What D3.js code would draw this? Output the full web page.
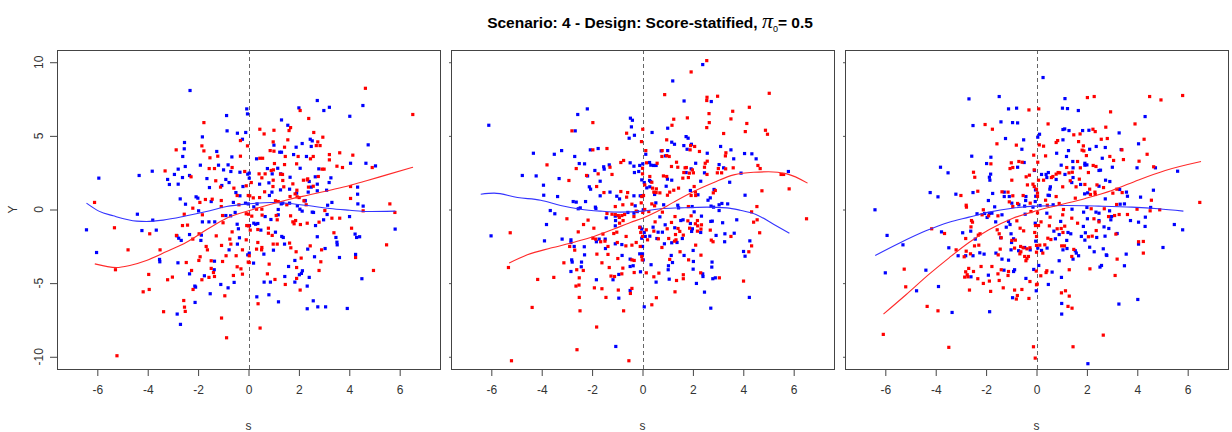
<!DOCTYPE html>
<html>
<head>
<meta charset="utf-8">
<script src="https://cdn.jsdelivr.net/npm/d3@7"></script>
<style>
  html, body { margin: 0; padding: 0; background: #fff; }
  svg { display: block; }
</style>
</head>
<body>
<svg id="chart" width="1232" height="432"></svg>
<script>
// Tick values shared by all three panels
const xTicks = [-6, -4, -2, 0, 2, 4, 6];
const yTicks = [-10, -5, 0, 5, 10];

// Panel 1: scatter (s, Y) per arm
const p1Blue = [[-2.32,8.08],[-0.07,6.83],[-0.04,6.49],[-0.87,6.38],[-0.85,5.34],[-0.44,5.18],[-0.11,5.23],[-0.24,4.77],[-2.54,4.55],[-1.83,4.93],[-2.55,4.12],[-1.26,3.94],[-2.61,3.60],[-0.66,3.57],[-1.91,3.01],[-1.19,3.01],[-0.81,3.03],[-2.79,2.74],[-2.51,2.92],[-0.99,2.69],[-0.70,2.58],[-0.34,2.53],[-0.03,2.40],[-3.82,2.60],[-4.34,2.31],[-5.94,2.13],[-2.94,2.38],[-2.62,2.17],[-2.34,2.31],[-3.21,2.04],[-1.65,2.10],[-0.90,2.04],[-0.77,1.83],[-3.14,1.70],[-2.79,1.72],[-1.55,1.49],[-1.06,1.63],[-0.22,1.56],[-2.71,0.72],[-2.08,0.86],[-2.01,0.77],[-1.48,0.54],[-0.50,1.15],[-0.34,0.93],[-2.50,0.36],[-0.60,0.48],[-0.12,0.43],[-4.41,-0.32],[-1.98,-0.09],[-0.90,-0.41],[-0.71,-0.43],[-0.53,-0.20],[-3.80,-0.72],[-1.83,-0.84],[-1.57,-0.84],[-1.34,-0.84],[-0.45,-1.00],[-4.23,-1.43],[-3.66,-1.40],[-2.84,-1.79],[-2.77,-1.95],[-2.67,-2.10],[-2.34,-1.70],[-1.87,-1.74],[-1.89,-2.10],[-0.40,-1.31],[-6.43,-1.38],[-0.44,-2.35],[-0.36,-1.92],[-6.03,-2.92],[-0.77,-2.74],[-0.03,-3.08],[-3.53,-3.39],[-3.52,-3.55],[-2.80,-3.62],[-1.35,-3.51],[-1.36,-4.09],[-2.34,-4.37],[-1.75,-4.50],[-0.57,-4.95],[-2.13,-5.20],[-2.10,-5.27],[-1.10,-5.09],[-0.81,-5.32],[-1.52,-5.72],[-2.12,-6.31],[-2.83,-7.10],[-2.70,-7.80],
[4.54,7.06],[2.73,7.40],[2.00,6.90],[2.99,6.72],[3.21,6.94],[4.02,6.33],[1.31,6.08],[1.56,5.72],[2.45,4.77],[2.53,4.66],[1.01,4.37],[2.13,4.48],[2.49,4.28],[4.75,4.39],[1.24,3.89],[1.31,3.89],[1.89,4.23],[1.79,3.73],[2.30,3.60],[0.32,3.44],[4.05,3.14],[4.66,3.14],[5.04,2.96],[2.79,2.76],[2.05,2.80],[1.16,2.80],[0.75,2.78],[0.03,2.47],[0.94,2.42],[1.28,2.42],[1.65,2.19],[2.41,1.90],[2.65,2.22],[2.73,1.72],[3.27,2.15],[3.20,1.83],[0.03,2.13],[0.44,1.72],[0.81,1.81],[1.27,1.33],[1.63,1.38],[2.49,1.52],[2.73,1.27],[3.10,1.31],[4.33,1.52],[4.33,1.04],[0.83,0.95],[0.93,1.18],[1.91,1.11],[2.24,0.61],[2.37,1.18],[1.63,0.43],[-0.01,0.38],[0.34,0.38],[1.30,0.38],[1.36,0.43],[1.94,0.25],[2.04,0.02],[2.25,0.59],[3.31,0.48],[3.14,0.29],[4.34,0.38],[4.55,0.23],[0.21,0.18],[1.18,0],[1.18,-0.36],[2.13,-0.11],[2.53,-0.18],[2.58,-0.20],[3.12,-0.34],[4.01,-0.48],[0.66,-0.48],[0.89,-0.68],[0.21,-0.93],[0.28,-1.00],[0.37,-0.95],[2.66,-1.09],[2.98,-0.70],[0.04,-1.09],[0.49,-1.40],[1.07,-1.54],[1.32,-1.83],[1.38,-1.90],[1.43,-2.35],[2.73,-1.85],[3.47,-1.90],[3.51,-2.22],[3.52,-2.40],[4.23,-1.67],[4.29,-1.90],[4.41,-1.85],[5.82,-1.33],[0.61,-3.03],[0.03,-2.96],[0.99,-2.76],[2.35,-2.69],[2.62,-3.21],[3.04,-2.65],[3.61,-3.26],[4.25,-3.05],[0.20,-3.64],[1.59,-3.87],[1.84,-3.46],[2.14,-4.16],[2.10,-4.34],[2.02,-4.43],[4.50,-4.70],[2.41,-4.61],[0.62,-4.93],[0.87,-4.93],[1.44,-4.55],[1.84,-4.93],[2.33,-5.20],[0.81,-5.79],[0.33,-5.93],[1.19,-6.27],[2.57,-6.20],[2.75,-6.61],[3.06,-6.61],[3.92,-6.72],[2.33,-6.74]];
const p1Red = [[-1.77,5.90],[-0.32,4.68],[-0.04,4.32],[-1.85,4.32],[-2.87,4.05],[-1.77,3.98],[-1.22,3.62],[-1.53,3.51],[-0.32,3.62],[-3.31,2.62],[-1.56,2.78],[-1.35,2.78],[-0.65,2.85],[-0.15,2.58],[-2.28,2.22],[-1.30,1.95],[-1.11,1.52],[-0.09,1.61],[-0.58,1.45],[-1.71,0.68],[-1.44,0.70],[-0.45,0.95],[-1.08,0.61],[-0.01,0.95],[-6.11,0.48],[-1.93,0.48],[-2.21,0.09],[-1.08,0.20],[-0.38,0.32],[-2.55,-0.32],[-1.83,-0.36],[-1.03,-0.41],[-0.09,-0.29],[-2.62,-1.09],[-2.42,-1.06],[-1.01,-0.90],[-0.07,-1.09],[-5.32,-1.24],[-3.92,-1.65],[-2.86,-1.76],[-2.21,-2.01],[-1.96,-1.65],[-0.65,-1.52],[-1.28,-1.79],[-1.07,-2.44],[-0.70,-2.35],[-0.09,-2.06],[-0.74,-2.01],[-4.78,-2.74],[-3.51,-2.74],[-1.68,-2.51],[-1.63,-2.74],[-0.24,-2.74],[-2.47,-3.60],[-1.92,-3.21],[-1.97,-3.46],[-1.48,-3.48],[-1.03,-3.53],[-0.89,-3.14],[-0.49,-3.14],[-0.01,-3.57],[-5.28,-4.09],[-2.26,-4.14],[-1.48,-4.00],[-1.39,-4.28],[-0.45,-3.89],[-0.30,-4.03],[-3.96,-4.41],[-1.57,-4.61],[-1.35,-4.55],[-0.60,-4.48],[-0.24,-4.39],[-3.21,-4.77],[-3.02,-4.59],[-1.85,-4.77],[-2.20,-5.43],[-4.18,-5.59],[-3.94,-5.43],[-0.94,-5.86],[-2.57,-6.18],[-2.54,-6.63],[-2.51,-6.92],[-3.37,-6.94],[-1.07,-7.37],[-0.87,-8.71],[-5.22,-9.93],
[4.64,8.23],[2.05,6.72],[6.52,6.45],[2.39,6.18],[0.45,5.45],[1.01,5.38],[1.61,5.36],[1.67,5.56],[0.62,5.13],[2.59,5.23],[2.95,4.91],[2.75,4.59],[1.56,4.73],[0.98,4.59],[2.69,4.34],[2.84,4.34],[1.43,4.23],[0.86,4.00],[1.01,3.96],[1.46,3.60],[1.97,3.60],[2.46,3.44],[2.57,3.60],[3.21,3.73],[3.62,3.85],[4.14,3.69],[0.45,3.48],[0.56,3.48],[3.21,3.37],[4.91,2.85],[3.51,2.94],[3.73,2.85],[2.92,2.74],[3.00,2.74],[1.91,3.10],[1.43,3.05],[0.99,2.69],[1.03,3.12],[0.42,2.42],[0.66,2.42],[0.90,2.65],[1.27,2.40],[1.35,2.38],[2.35,2.08],[2.33,2.01],[2.77,2.24],[0.11,1.83],[0.53,2.15],[0.98,1.99],[1.36,1.97],[1.40,1.54],[0.97,1.56],[1.76,1.74],[1.92,1.31],[2.18,1.99],[2.38,1.52],[2.57,1.58],[4.05,1.56],[0.05,0.93],[0.19,0.79],[0.44,0.81],[0.64,1.20],[1.07,0.59],[1.18,0.54],[1.65,0.88],[1.85,1.06],[1.93,0.86],[2.01,0.81],[2.20,0.59],[1.52,0.32],[2.29,0.32],[4.05,0.75],[5.61,0.38],[4.55,-0.09],[0.32,0.02],[0.53,0.02],[1.10,-0.41],[1.67,-0.43],[3.03,-0.07],[3.31,-0.59],[3.62,-0.59],[5.81,-0.20],[0,-0.32],[0.13,-0.45],[0.54,-0.38],[1.14,-0.70],[1.87,-0.75],[1.76,-0.84],[1.81,-0.97],[2.06,-1.02],[2.33,-0.93],[2.80,-0.86],[0,-1.11],[0.07,-1.40],[0.37,-1.36],[0.79,-1.27],[0.79,-1.61],[0.94,-1.76],[0.98,-2.35],[1.14,-2.35],[1.63,-2.28],[1.68,-2.60],[3.39,-1.58],[4.09,-1.27],[5.48,-2.40],[0.37,-2.24],[0.53,-2.58],[0.32,-2.69],[0.52,-2.74],[0.03,-3.14],[1.89,-2.87],[2.09,-3.30],[2.45,-2.47],[2.90,-2.74],[2.87,-3.55],[4.25,-3.26],[0.82,-3.71],[0.03,-3.60],[1.91,-3.94],[2.80,-4.14],[4.96,-4.14],[0.75,-4.37],[1.05,-4.75],[1.91,-4.68],[1.46,-5.09],[2.05,-5.47],[0.38,-6.40],[0.46,-8.05]];

// Panel 2
const p2Blue = [[-2.19,6.83],[-2.57,6.45],[-6.10,5.72],[-0.48,6.20],[-0.40,6.06],[-0.44,5.61],[-2.67,5.34],[-0.32,5.04],[-0.53,4.84],[-4.33,3.82],[-3.50,3.75],[-3.21,4.00],[-2.07,4.05],[-1.76,4.14],[-2.69,3.60],[-2.51,3.12],[-2.30,3.10],[-1.89,2.65],[-1.54,2.90],[-1.52,2.74],[-1.32,3.03],[-0.49,3.17],[-0.34,2.94],[-0.11,2.99],[0.01,3.10],[-4.77,2.31],[-4.22,2.28],[-3.31,2.10],[-2.18,2.28],[-0.32,2.51],[-0.15,2.58],[-1.68,1.92],[-0.03,2.01],[-3.93,1.65],[-2.11,1.54],[-2.06,1.38],[-1.29,1.18],[-1.68,0.93],[-0.34,0.93],[-1.02,0.90],[-0.91,0.72],[-0.09,0.93],[-3.92,0.97],[-3.37,0.88],[-2.75,0.54],[-2.63,0.50],[-2.26,0.54],[-1.87,0.16],[-1.85,0.07],[-2.55,0.05],[-2.47,0.11],[-0.29,0.25],[-3.66,-0.07],[-3.48,-0.29],[-1.44,-0.57],[-1.08,-0.45],[-0.58,-0.20],[-0.34,-0.25],[-0.21,-0.14],[-1.07,-0.75],[-3.81,-1.02],[-1.08,-1.11],[-0.09,-1.20],[-0.03,-1.33],[-6.01,-1.79],[-0.03,-1.95],[0,-2.51],[-3.89,-2.13],[-3.19,-2.01],[-2.84,-2.06],[-2.84,-2.24],[-2.71,-2.51],[-1.72,-2.01],[-1.83,-2.19],[-1.48,-2.01],[-1.08,-2.33],[-0.82,-2.38],[-2.31,-2.53],[-1.47,-2.65],[-2.30,-3.08],[-0.81,-3.12],[-0.11,-3.01],[-0.49,-3.37],[-2.81,-3.42],[-2.79,-3.57],[-2.42,-3.57],[-2.43,-3.89],[-2.84,-4.21],[-0.49,-3.87],[-0.37,-3.82],[-0.08,-4.23],[-1.83,-4.77],[-1.17,-4.77],[-0.94,-4.41],[-0.49,-5.50],[-0.94,-6.02],[-1.06,-9.30],
[2.39,9.84],[1.20,8.73],[1.65,7.37],[2.73,7.33],[1.00,5.52],[0.38,5.23],[1.16,4.57],[1.27,4.43],[1.73,4.95],[1.81,4.84],[1.64,4.34],[1.94,4.43],[1.77,4.09],[3.10,4.28],[3.51,4.05],[2.57,3.82],[3.62,3.44],[4.05,3.80],[4.34,3.78],[4.51,3.44],[0.13,3.75],[0.74,3.98],[1.00,4.00],[0.91,3.64],[0.28,3.19],[0.33,3.01],[0.44,2.99],[0.54,2.99],[1.93,2.76],[2.11,3.14],[3.04,3.05],[3.22,2.83],[1.73,2.51],[2.46,2.49],[3.91,2.47],[5.79,2.58],[0.99,2.06],[1.16,1.99],[0.28,1.97],[0.07,1.83],[0.29,1.54],[0.32,1.90],[0.17,1.47],[0.94,1.58],[1.90,1.29],[2.20,1.00],[2.31,1.92],[2.84,1.36],[3.46,1.85],[4.07,0.97],[2.69,0.79],[2.60,0.63],[0.48,1.02],[0.53,0.45],[0.84,0.32],[0,0.93],[1.40,0.29],[1.43,0.11],[2.72,0.23],[2.82,0.16],[3.04,0.32],[3.15,0.41],[3.38,0.38],[0.03,-0.02],[1.97,0.20],[2.05,-0.16],[3.04,-0.07],[2.34,-0.45],[0.69,-0.50],[1.52,-0.75],[1.61,-0.70],[1.90,-0.95],[2.71,-0.81],[2.77,-0.79],[3.18,-0.90],[3.74,-0.70],[0.90,-1.04],[0.42,-1.20],[1.28,-1.24],[0.79,-1.54],[0.62,-1.54],[0.07,-1.56],[0.11,-1.83],[0.29,-1.81],[1.58,-1.97],[1.95,-1.49],[1.98,-1.31],[2.31,-1.56],[2.92,-1.76],[3.27,-1.65],[3.64,-1.61],[0.57,-1.97],[0.87,-2.33],[1.16,-2.26],[1.37,-2.24],[1.65,-3.12],[2.01,-2.78],[3.26,-2.19],[4.26,-2.13],[4.01,-2.85],[4.07,-3.17],[0,-3.01],[0.03,-3.42],[1.14,-3.12],[1.19,-3.60],[1.03,-3.82],[1.02,-4.09],[2.02,-3.53],[2.01,-4.05],[2.76,-3.57],[2.75,-3.91],[0.34,-3.75],[2.39,-4.37],[2.40,-4.55],[2.79,-4.70],[2.89,-4.64],[1.06,-4.73],[0.54,-4.93],[2.14,-5.02],[2.46,-5.61],[4.24,-5.97],[0.07,-6.61],[2.71,-6.70]];
const p2Red = [[-1.97,5.90],[0.01,5.45],[-2.80,5.34],[-0.63,5.18],[-0.04,4.61],[-1.97,4.05],[-1.41,4.14],[-3.79,3.03],[-2.63,2.78],[-1.29,2.87],[-0.86,3.19],[-0.75,3.33],[-2.92,1.97],[-2.22,2.31],[-1.76,2.42],[-1.21,2.38],[-1.82,1.56],[-1.53,1.15],[-0.86,1.22],[-0.59,1.15],[-0.63,0.84],[-0.03,0.88],[-0.05,0.45],[-0.42,0.36],[-0.78,0.32],[-1.08,0.20],[-0.25,-0.11],[-3.00,-0.63],[-2.16,-0.72],[-1.41,-0.27],[-1.21,-0.32],[-1.08,-0.34],[-0.96,-0.41],[-0.92,-0.54],[-0.82,-0.41],[-0.71,-0.34],[0.01,-0.20],[-0.34,-0.48],[-0.77,-0.75],[-2.34,-1.02],[-0.91,-0.93],[-0.11,-1.22],[-1.93,-1.27],[-2.55,-1.52],[-5.25,-1.58],[-1.57,-1.67],[-1.14,-1.63],[-1.02,-1.54],[-0.07,-1.56],[-0.65,-1.83],[-2.89,-2.51],[-1.97,-1.95],[-1.86,-2.01],[-1.66,-2.19],[-1.49,-2.15],[-1.37,-2.51],[-1.00,-2.24],[-0.66,-2.47],[-0.42,-2.42],[-0.25,-2.24],[-2.69,-2.76],[-0.09,-2.51],[-1.81,-3.03],[-1.37,-3.05],[-0.03,-3.19],[-0.01,-3.42],[-0.98,-3.33],[-0.42,-3.42],[-0.33,-3.46],[-3.12,-3.62],[-1.61,-3.62],[-5.32,-3.94],[-2.61,-4.09],[-2.35,-4.14],[-1.32,-3.94],[-0.78,-3.98],[-0.33,-4.28],[-4.16,-4.75],[-3.52,-4.61],[-2.51,-4.64],[-1.25,-4.52],[-1.11,-4.55],[-0.82,-4.37],[-2.64,-5.20],[-2.52,-5.13],[-1.91,-5.32],[-1.61,-5.38],[-0.96,-5.47],[-0.42,-5.36],[-0.48,-5.70],[-2.51,-5.97],[-1.45,-5.97],[-4.38,-6.65],[-2.48,-6.88],[-0.75,-6.88],[-1.82,-7.98],[-2.60,-9.52],[-5.20,-10.27],[-0.54,-10.27],
[2.55,10.11],[1.93,9.34],[0.88,7.80],[5.03,7.89],[2.56,7.62],[2.55,7.40],[2.98,7.69],[4.24,6.94],[3.58,6.67],[2.64,6.51],[3.51,6.15],[1.78,6.22],[1.24,6.13],[1.17,5.72],[2.65,5.90],[2.55,5.56],[4.14,5.84],[4.88,5.38],[4.96,5.11],[4.08,5.29],[3.22,5.16],[0.96,4.73],[1.91,4.34],[2.07,4.28],[1.89,4.05],[2.26,3.94],[3.31,3.85],[3.29,3.64],[0.13,4.00],[0.78,4.00],[0.96,3.66],[0.77,3.60],[1.06,3.60],[0.16,3.17],[0.58,3.14],[1.35,3.21],[1.40,2.87],[1.15,2.92],[1.74,2.85],[1.69,2.83],[1.98,2.69],[2.49,3.14],[2.46,2.87],[2.57,3.28],[3.30,2.76],[3.01,2.78],[3.60,2.83],[4.58,2.99],[4.67,2.78],[0,2.80],[0,2.42],[1.64,2.51],[1.86,2.47],[2.02,2.49],[2.56,2.38],[2.97,2.49],[3.14,2.49],[5.50,2.38],[5.60,2.38],[0.83,2.28],[0.96,2.24],[1.82,2.17],[1.60,2.13],[0.29,2.24],[0.09,1.67],[0.37,1.85],[0.40,1.45],[0.55,1.40],[1.43,1.45],[1.24,1.31],[1.08,1.18],[2.05,1.56],[2.10,1.18],[2.11,0.95],[1.93,0.95],[2.89,1.29],[5.82,1.40],[4.74,1.27],[2.81,1.13],[0.69,1.13],[0.45,1.18],[0.54,1.15],[0.99,0.97],[0.48,0.25],[0.37,0.38],[0.04,0.95],[1.82,0.20],[4.54,0.20],[0.25,-0.14],[0.09,0],[0.79,-0.18],[4.33,-0.16],[1.93,-0.43],[1.29,-0.48],[1.80,-0.77],[2.10,-0.97],[2.18,-0.75],[2.34,-1.04],[2.19,-1.11],[1.87,-1.27],[4.41,-0.86],[4.55,-0.70],[6.51,-0.63],[1.15,-0.88],[0.50,-0.84],[0.98,-1.31],[1.41,-1.29],[1.48,-1.49],[1.31,-1.70],[0.45,-1.47],[0.15,-1.38],[1.62,-1.74],[2.18,-1.47],[2.32,-1.33],[2.69,-1.40],[4.65,-1.58],[3.51,-1.83],[0,-1.83],[0.20,-2.06],[0.63,-1.99],[1.04,-1.97],[1.27,-2.15],[1.33,-2.06],[0.77,-2.58],[1.49,-2.87],[1.83,-3.42],[2.11,-2.42],[2.32,-3.10],[2.73,-2.08],[2.80,-2.19],[4.33,-2.47],[4.22,-2.87],[1.08,-3.39],[0.15,-4.30],[1.62,-4.43],[1.62,-4.70],[2.31,-4.30],[3.05,-4.64],[1.35,-4.82],[0.45,-4.57],[0.65,-4.32],[4.01,-4.86],[1.29,-5.59],[0.55,-5.99],[0.37,-6.47]];

// Panel 3
const p3Blue = [[-1.48,7.67],[-2.68,7.51],[-1.11,6.83],[-0.79,6.88],[-1.41,5.95],[-0.95,5.90],[-0.75,5.88],[-2.52,5.70],[-1.23,4.82],[-0.51,4.73],[-0.58,4.09],[-2.57,3.62],[-1.81,3.55],[-0.49,3.19],[-1.98,3.12],[-0.75,2.87],[-3.81,2.87],[-3.51,2.49],[-1.87,2.19],[-1.82,2.40],[-1.85,1.99],[-0.08,2.65],[-4.22,1.15],[-3.91,0.86],[-3.20,1.04],[-2.52,1.15],[-1.74,1.09],[-1.28,1.18],[-1.08,0.88],[-1.28,0.88],[-0.42,0.88],[-0.04,1.33],[-0.03,0.90],[-0.98,0.43],[-0.70,0.32],[-0.47,0.23],[-0.43,0.61],[-0.14,0.16],[-0.45,-0.32],[-0.05,0.54],[-1.91,0.61],[-1.66,0.18],[-6.41,-0.02],[-2.36,-0.29],[-2.06,-0.27],[-1.96,-0.54],[-1.87,-0.27],[-1.77,-0.25],[-1.37,-0.36],[-1.62,-0.84],[-1.11,-0.81],[-1.05,-1.02],[-0.05,-0.93],[-0.03,-2.15],[-3.77,-1.52],[-2.93,-1.58],[-2.61,-1.47],[-1.20,-1.20],[-1.42,-1.92],[-1.01,-1.65],[-0.99,-2.24],[-0.91,-1.99],[-0.47,-2.58],[-0.25,-2.74],[-5.93,-1.76],[-5.30,-2.40],[-2.43,-2.01],[-3.48,-2.60],[-3.11,-3.14],[-2.81,-3.14],[-2.52,-3.14],[-2.25,-2.94],[-2.08,-3.03],[-1.61,-2.96],[-1.37,-3.37],[-1.11,-3.44],[-1.01,-2.74],[-0.71,-2.80],[-4.39,-4.12],[-6.00,-4.30],[-2.60,-4.57],[-1.29,-4.12],[-0.91,-4.21],[-0.87,-4.09],[-1.91,-4.46],[-0.42,-4.68],[-0.11,-4.07],[-4.76,-5.52],[-3.89,-5.23],[-0.01,-5.52],[-0.95,-5.99],[-3.35,-6.99],[-1.86,-6.94],
[0.26,8.96],[1.13,7.53],[1.03,6.88],[1.23,6.85],[1.66,6.72],[4.31,6.31],[1.05,5.43],[1.12,5.47],[1.29,5.36],[1.83,5.36],[2.08,5.38],[3.28,5.20],[0.12,5.11],[0.05,4.91],[1.05,4.73],[4.05,4.46],[2.37,4.28],[2.73,4.21],[2.11,4.09],[3.36,4.07],[1.27,4.00],[0.80,3.82],[1.19,3.60],[2.61,3.48],[1.92,3.14],[1.92,3.01],[2.00,3.03],[1.44,3.26],[0.98,3.01],[1.45,2.83],[2.48,2.65],[2.54,2.67],[3.01,2.87],[3.99,2.83],[4.72,2.83],[5.60,2.60],[0.20,2.38],[0.38,2.38],[0.47,2.51],[0.41,2.17],[0.78,2.04],[1.13,2.38],[1.40,1.83],[1.45,2.17],[2.74,1.99],[2.91,1.90],[2.48,1.58],[0.55,1.54],[0.53,1.38],[1.75,1.70],[3.30,1.36],[3.57,1.18],[4.64,1.31],[0.46,0.97],[0.51,0.95],[1.91,1.06],[2.03,1.13],[3.61,0.90],[4.13,0.84],[2.73,0.72],[0.14,0.27],[0.66,0.32],[1.41,0.02],[2.00,0.14],[2.36,-0.18],[2.48,-0.25],[2.90,-0.09],[3.49,0.38],[3.32,0.36],[4.53,0.14],[0.41,-0.25],[1.87,-0.18],[2.02,-0.63],[2.48,-0.75],[2.98,-0.48],[2.95,-0.70],[3.73,-0.75],[4.05,-0.86],[4.32,-0.52],[4.31,-1.15],[5.47,-1.02],[5.80,-1.38],[0.96,-0.81],[0.69,-1.47],[0.90,-1.70],[1.25,-1.56],[1.36,-1.65],[1.86,-1.15],[1.94,-1.58],[2.68,-1.18],[2.87,-1.29],[3.20,-1.63],[2.72,-1.81],[2.39,-1.90],[0.75,-1.99],[1.20,-2.10],[1.78,-1.83],[1.92,-2.08],[0.05,-2.62],[0.20,-2.78],[0.42,-2.62],[1.05,-2.74],[1.21,-2.65],[1.54,-2.80],[1.58,-2.96],[1.45,-3.37],[1.67,-3.14],[2.11,-2.56],[2.29,-2.87],[2.65,-2.67],[2.77,-3.08],[2.79,-3.12],[5.02,-2.58],[3.56,-3.03],[4.05,-2.35],[0.90,-3.48],[0.62,-4.25],[2.52,-3.91],[2.58,-3.80],[3.49,-3.82],[0.09,-3.80],[0.99,-4.61],[0.47,-5.09],[1.00,-6.38],[3.27,-6.42],[4.02,-6.11],[1.00,-7.10],[2.04,-10.47]];
const p3Red = [[-0.30,6.76],[-2.04,5.77],[-1.75,5.45],[-1.57,4.46],[-0.80,4.37],[-0.11,3.69],[-0.70,3.26],[-0.57,3.21],[-1.00,3.17],[-1.81,3.10],[-1.05,2.78],[-0.94,2.85],[-0.09,2.69],[-2.50,2.53],[-2.45,2.19],[-0.98,1.99],[-0.41,2.22],[-0.28,2.33],[-3.00,0.95],[-2.33,1.24],[-1.37,1.20],[-1.13,1.18],[-0.94,0.93],[-0.53,0.95],[-0.36,1.67],[-0.14,1.72],[-0.09,1.56],[-1.08,0.52],[-0.94,0.20],[-0.25,0.43],[-0.22,-0.14],[-0.75,0.41],[-2.79,0.29],[-2.78,0.16],[-2.16,-0.36],[-1.53,-0.43],[-2.11,-0.02],[-1.90,-0.43],[-2.58,-0.75],[-2.54,-0.86],[-0.78,-0.77],[-0.65,-1.27],[-0.51,-1.45],[-0.04,-1.09],[-0.07,-1.56],[0,-1.83],[-4.16,-1.31],[-3.65,-1.63],[-2.60,-1.18],[-2.24,-1.65],[-2.31,-1.74],[-1.56,-1.38],[-1.48,-1.65],[-1.40,-1.92],[-0.98,-2.10],[-0.84,-2.08],[-0.63,-2.51],[-0.53,-2.60],[-0.38,-2.67],[-0.26,-2.60],[0,-2.90],[-2.81,-1.97],[-2.29,-2.42],[-2.46,-2.47],[-3.19,-2.74],[-2.87,-3.21],[-2.79,-2.83],[-2.62,-3.01],[-1.44,-2.69],[-1.52,-3.08],[-0.87,-2.62],[-0.66,-3.01],[-0.47,-3.19],[-0.38,-3.33],[-0.42,-3.48],[-0.62,-2.87],[-0.32,-3.19],[-5.25,-4.05],[-2.20,-3.87],[-1.77,-3.87],[-2.69,-4.00],[-2.81,-4.23],[-2.75,-4.43],[-2.72,-4.57],[-2.85,-4.59],[-2.50,-4.21],[-1.53,-4.37],[-1.40,-4.09],[-1.13,-4.48],[-1.11,-4.21],[-2.33,-4.70],[-2.11,-5.02],[-1.87,-4.86],[-1.48,-4.82],[-0.26,-4.89],[-0.01,-4.18],[-5.19,-5.25],[-2.66,-5.47],[-1.82,-5.56],[-1.32,-5.32],[-0.87,-5.47],[-0.58,-5.43],[0,-5.11],[-0.80,-6.08],[-0.76,-5.84],[-0.30,-6.04],[-4.34,-6.58],[-3.91,-6.88],[-6.08,-8.48],[-3.48,-9.36],[-0.12,-9.32],[-0.05,-10.09],
[2.02,7.60],[2.29,7.67],[4.49,7.67],[5.80,7.74],[4.94,7.44],[0.09,6.83],[2.94,6.63],[0.46,5.81],[3.91,5.81],[2.75,5.59],[2.24,5.45],[2.33,5.29],[1.48,5.07],[1.73,5.13],[0.84,4.68],[0.78,4.55],[1.67,4.61],[2.57,4.77],[2.81,4.82],[4.27,4.77],[0.11,4.39],[0.28,4.30],[1.86,4.32],[1.81,4.03],[1.88,3.98],[3.39,4.05],[4.39,3.75],[1.98,3.66],[2.91,3.60],[3.06,3.33],[3.45,3.39],[0.36,3.64],[0.05,3.21],[1.63,3.26],[1.20,2.85],[1.74,2.83],[2.25,2.99],[2.36,2.92],[4.07,3.28],[4.65,2.90],[0.86,2.51],[0.92,2.49],[0.78,2.40],[0.59,2.17],[0.65,2.24],[0.28,1.99],[0.08,1.99],[1.29,2.49],[1.42,2.53],[1.34,1.95],[1.70,2.06],[2.06,2.51],[1.92,1.70],[2.40,1.67],[2.11,1.38],[2.66,1.49],[1.04,1.54],[1.57,1.54],[3.19,1.38],[3.03,1.11],[3.40,1.15],[0,1.38],[0.04,1.11],[0.04,0.88],[0.78,0.88],[0.36,0.63],[1.54,0.77],[2.14,1.02],[2.32,1.18],[2.33,1.02],[4.56,0.63],[0.43,0.29],[0.90,0.41],[1.07,0],[2.17,0.05],[2.69,0.05],[3.18,0.34],[4.51,-0.09],[3.99,0.02],[4.89,-0.02],[6.48,0.48],[0.04,-0.23],[0.54,-0.52],[1.04,-0.36],[1.40,-0.59],[2.28,-0.63],[2.48,-0.84],[2.86,-0.48],[3.10,-0.41],[3.28,-0.34],[3.61,-0.34],[0.18,-0.84],[0.08,-1.09],[0.51,-1.11],[0.98,-1.29],[1.12,-1.13],[0.82,-1.31],[1.05,-1.56],[1.63,-0.93],[2.37,-1.43],[3.15,-1.67],[2.06,-1.85],[2.21,-1.81],[0.45,-1.95],[0.57,-2.04],[0,-2.44],[0.13,-2.42],[0.33,-2.40],[0.25,-2.96],[1.00,-2.47],[1.11,-2.47],[1.48,-2.71],[1.40,-3.19],[4.05,-2.19],[4.24,-2.17],[3.20,-3.37],[4.24,-2.96],[0.41,-4.16],[0.38,-4.28],[1.30,-4.09],[2.12,-4.03],[0.17,-4.50],[3.12,-4.48],[0.03,-5.07],[0.99,-5.66],[1.15,-5.52],[1.30,-5.88],[1.25,-6.58],[1.41,-6.70],[2.65,-8.53],[1.45,-9.32]];

// Lowess fits per arm (s, fitted Y)
const p1BlueFit = [[-6.43,0.43],[-5.94,-0.11],[-5.37,-0.43],[-4.44,-0.79],[-4.05,-0.81],[-3.39,-0.72],[-2.46,-0.43],[-1.67,-0.14],[-0.87,0.20],[0,0.38],[0.91,0.48],[1.64,0.41],[2.43,0.25],[3.23,0.07],[4.02,-0.05],[4.68,-0.14],[5.83,-0.11]];
const p1RedFit = [[-6.10,-3.69],[-5.24,-3.94],[-4.71,-3.80],[-4.05,-3.46],[-3.25,-2.85],[-2.46,-2.22],[-1.67,-1.38],[-0.87,-0.59],[0,-0.09],[0.85,0.34],[1.64,0.70],[2.43,1.00],[3.23,1.31],[4.02,1.63],[4.68,1.95],[5.48,2.35],[6.53,2.87]];
const p2BlueFit = [[-6.42,1.04],[-5.89,1.11],[-4.96,0.81],[-4.04,0.63],[-3.25,0.27],[-2.46,0.02],[-1.66,-0.11],[-0.87,-0.18],[0,-0.11],[0.71,0.05],[1.50,0.11],[2.56,0.16],[3.35,0.11],[3.88,-0.05],[4.48,-0.32],[5.20,-1.00],[5.83,-1.61]];
const p2RedFit = [[-5.29,-3.64],[-4.57,-3.08],[-3.64,-2.62],[-2.72,-2.22],[-1.93,-1.83],[-1.14,-1.33],[-0.48,-0.88],[0,-0.59],[0.58,-0.14],[1.24,0.50],[2.03,1.22],[2.83,1.83],[3.62,2.35],[4.41,2.53],[5.00,2.56],[5.73,2.42],[6.55,1.79]];
const p3BlueFit = [[-6.40,-3.12],[-5.45,-2.29],[-4.39,-1.45],[-3.47,-0.86],[-2.68,-0.52],[-1.89,-0.18],[-0.96,0.09],[0,0.23],[1.15,0.27],[2.47,0.23],[3.79,0.16],[4.84,0.05],[5.83,-0.11]];
const p3RedFit = [[-6.07,-7.10],[-5.18,-5.79],[-4.26,-4.39],[-3.47,-3.28],[-2.68,-2.24],[-1.89,-1.38],[-0.96,-0.61],[0,-0.09],[0.88,0.29],[1.94,0.75],[2.99,1.29],[4.05,2.01],[5.11,2.65],[6.53,3.26]];

const panels = [
  { blue: p1Blue, red: p1Red, blueFit: p1BlueFit, redFit: p1RedFit, yLabels: true },
  { blue: p2Blue, red: p2Red, blueFit: p2BlueFit, redFit: p2RedFit, yLabels: false },
  { blue: p3Blue, red: p3Red, blueFit: p3BlueFit, redFit: p3RedFit, yLabels: false }
];

const svg = d3.select("#chart");
const FONT = "'Liberation Sans', Arial, Helvetica, sans-serif";
const TEXT_COL = "#333";
const panelLeft = [57, 451, 845];
const panelW = 383;
const plotTop = 50, plotBottom = 369;

panels.forEach((p, i) => {
  const left = panelLeft[i];
  const x = d3.scaleLinear().domain([-7.6, 7.6]).range([left, left + panelW]);
  const y = d3.scaleLinear().domain([-10.83, 10.83]).range([plotBottom, plotTop]);
  const g = svg.append("g");

  // reference line at s = 0
  g.append("line")
    .attr("x1", Math.round(x(0)) + 0.5).attr("x2", Math.round(x(0)) + 0.5)
    .attr("y1", plotTop).attr("y2", plotBottom)
    .attr("stroke", "#666").attr("stroke-width", 1)
    .attr("stroke-dasharray", "4,3");

  // points
  const size = 3.2;
  const drawPts = (data, col) => {
    g.append("g").selectAll("rect").data(data).join("rect")
      .attr("x", d => x(d[0]) - size / 2)
      .attr("y", d => y(d[1]) - size / 2)
      .attr("width", size).attr("height", size)
      .attr("fill", col);
  };
  drawPts(p.blue, "#0000ff");
  drawPts(p.red, "#ff0000");

  // smooth fits
  const line = d3.line().x(d => x(d[0])).y(d => y(d[1])).curve(d3.curveMonotoneX);
  g.append("path").datum(p.blueFit).attr("d", line)
    .attr("fill", "none").attr("stroke", "#3333ff").attr("stroke-width", 1.1);
  g.append("path").datum(p.redFit).attr("d", line)
    .attr("fill", "none").attr("stroke", "#ff2a2a").attr("stroke-width", 1.1);

  // x axis
  const xAxis = d3.axisBottom(x).tickValues(xTicks).tickSize(7).tickPadding(9)
    .tickFormat(d => d < 0 ? "-" + Math.abs(d) : String(d));
  const ax = g.append("g").attr("transform", `translate(0,${plotBottom})`).call(xAxis);
  ax.select(".domain").remove();
  ax.selectAll("line").attr("stroke", "#444");
  ax.selectAll("text").attr("font-family", FONT).attr("font-size", 12).attr("fill", TEXT_COL);

  // y axis
  if (p.yLabels) {
    const yAxis = d3.axisLeft(y).tickValues(yTicks).tickSize(7).tickFormat(d => "");
    const ay = g.append("g").attr("transform", `translate(${left},0)`).call(yAxis);
    ay.select(".domain").remove();
    ay.selectAll("line").attr("stroke", "#444");
    g.append("g").selectAll("text").data(yTicks).join("text")
      .attr("transform", d => `translate(43,${y(d)}) rotate(-90)`)
      .attr("text-anchor", "middle")
      .attr("font-family", FONT).attr("font-size", 12).attr("fill", TEXT_COL)
      .text(d => d < 0 ? "-" + Math.abs(d) : String(d));
    g.append("text")
      .attr("transform", `translate(17,${y(0)}) rotate(-90)`)
      .attr("text-anchor", "middle")
      .attr("font-family", FONT).attr("font-size", 12).attr("fill", TEXT_COL)
      .text("Y");
  } else {
    const yAxis = d3.axisLeft(y).tickValues(yTicks).tickSize(2).tickFormat(d => "");
    const ay = g.append("g").attr("transform", `translate(${left},0)`).call(yAxis);
    ay.select(".domain").remove();
    ay.selectAll("line").attr("stroke", "#555");
  }

  // x label
  g.append("text")
    .attr("x", x(0)).attr("y", 430)
    .attr("text-anchor", "middle")
    .attr("font-family", FONT).attr("font-size", 12).attr("fill", TEXT_COL)
    .text("s");

  // frame
  g.append("rect")
    .attr("x", left + 0.5).attr("y", plotTop + 0.5)
    .attr("width", panelW).attr("height", plotBottom - plotTop)
    .attr("fill", "none").attr("stroke", "#444").attr("stroke-width", 1);
});

// title
const title = svg.append("text")
  .attr("x", 650).attr("y", 28)
  .attr("text-anchor", "middle")
  .attr("font-family", FONT).attr("font-size", 15.5).attr("font-weight", "bold")
  .attr("fill", "#000");
title.append("tspan").text("Scenario: 4 - Design: Score-statified, ");
title.append("tspan").attr("font-family", "'Liberation Serif', 'DejaVu Serif', serif")
  .attr("font-style", "italic").attr("font-weight", "normal").attr("font-size", 22).text("π");
title.append("tspan").attr("font-size", 9).attr("font-weight", "normal").attr("dy", 4).text("0");
title.append("tspan").attr("dy", -4).text("= 0.5");
</script>
</body>
</html>
